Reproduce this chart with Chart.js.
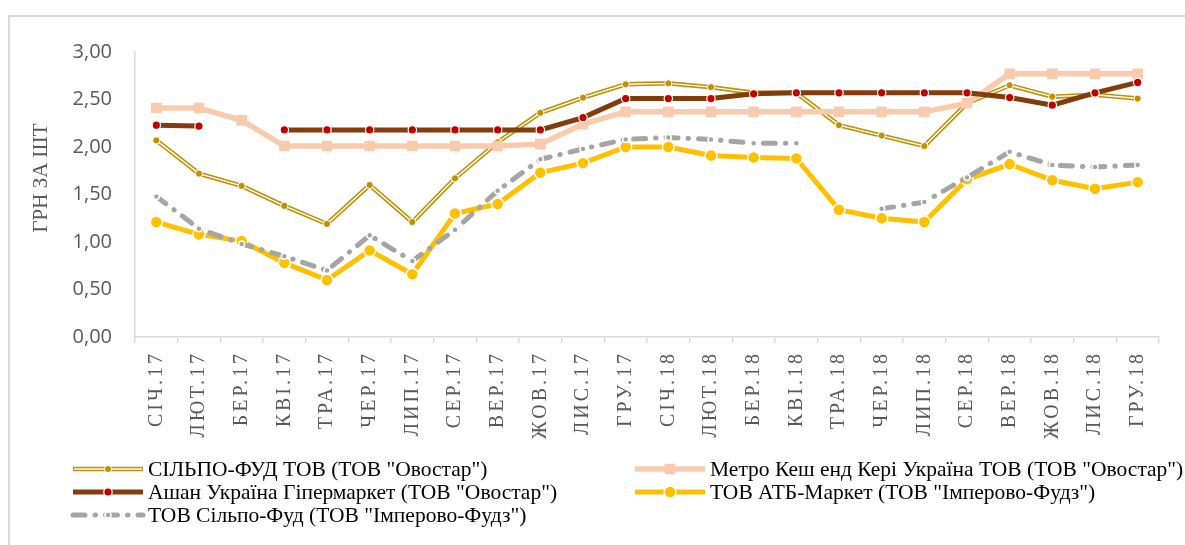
<!DOCTYPE html>
<html>
<head>
<meta charset="utf-8">
<script src="https://cdn.jsdelivr.net/npm/chart.js@4.4.1/dist/chart.umd.min.js"></script>
<style>
  html, body { margin: 0; padding: 0; background: #fff; }
  #frame { position: absolute; left: 8px; top: 15px; width: 1300px; height: 700px;
           border-top: 2px solid #D9D9D9; border-left: 2px solid #D9D9D9; }
  #chart { position: absolute; left: 0; top: 0; }
</style>
</head>
<body>
<div id="frame"></div>
<canvas id="chart" width="1185" height="545"></canvas>
<script>
/* --------------- Data --------------------- */
const months = ['СІЧ.17', 'ЛЮТ.17', 'БЕР.17', 'КВІ.17', 'ТРА.17', 'ЧЕР.17', 'ЛИП.17', 'СЕР.17',
  'ВЕР.17', 'ЖОВ.17', 'ЛИС.17', 'ГРУ.17', 'СІЧ.18', 'ЛЮТ.18', 'БЕР.18', 'КВІ.18', 'ТРА.18',
  'ЧЕР.18', 'ЛИП.18', 'СЕР.18', 'ВЕР.18', 'ЖОВ.18', 'ЛИС.18', 'ГРУ.18'];

const seriesNames = [
  'СІЛЬПО-ФУД ТОВ (ТОВ "Овостар")',
  'Метро Кеш енд Кері Україна ТОВ (ТОВ "Овостар")',
  'Ашан Україна Гіпермаркет (ТОВ "Овостар")',
  'ТОВ АТБ-Маркет (ТОВ "Імперово-Фудз")',
  'ТОВ Сільпо-Фуд (ТОВ "Імперово-Фудз")'
];

const silpoOvostar = [2.07, 1.72, 1.59, 1.38, 1.19, 1.60, 1.21, 1.67, 2.05, 2.36, 2.52, 2.66,
  2.67, 2.63, 2.57, 2.57, 2.23, 2.12, 2.01, 2.46, 2.65, 2.53, 2.55, 2.51];
const metroOvostar = [2.41, 2.41, 2.28, 2.01, 2.01, 2.01, 2.01, 2.01, 2.01, 2.03, 2.24, 2.37,
  2.37, 2.37, 2.37, 2.37, 2.37, 2.37, 2.37, 2.46, 2.77, 2.77, 2.77, 2.77];
const ashanOvostar = [2.23, 2.22, null, 2.18, 2.18, 2.18, 2.18, 2.18, 2.18, 2.18, 2.31, 2.51,
  2.51, 2.51, 2.56, 2.57, 2.57, 2.57, 2.57, 2.57, 2.52, 2.44, 2.57, 2.68];
const atbImperovo = [1.21, 1.08, 1.01, 0.78, 0.60, 0.91, 0.66, 1.30, 1.40, 1.73, 1.83, 2.00,
  2.00, 1.91, 1.89, 1.88, 1.34, 1.25, 1.21, 1.66, 1.82, 1.65, 1.56, 1.63];
const silpoImperovo = [1.48, 1.14, 0.98, 0.85, 0.70, 1.07, 0.80, 1.13, 1.54, 1.87, 1.98, 2.08,
  2.10, 2.08, 2.04, 2.04, null, 1.35, 1.42, 1.68, 1.95, 1.81, 1.79, 1.81];

const yTitle = 'ГРН ЗА ШТ';

/* --------------- Colors --------------------- */
const gold = '#BF9000';
const peach = '#F8CBAD';
const brown = '#843C0C';
const red = '#C00000';
const yellow = '#FFC000';
const grey = '#A5A5A5';
const axisGrey = '#D9D9D9';
const textGrey = '#595959';
const serif = '"Liberation Serif", "Times New Roman", serif';

/* --------------- Legend drawn in canvas (two columns like Excel) --------------------- */
const legendSlots = [
  { ds: 0, x: 73, y: 469 }, { ds: 2, x: 635, y: 469 },
  { ds: 3, x: 73, y: 492 }, { ds: 4, x: 635, y: 492 },
  { ds: 5, x: 73, y: 515 }
];
const legendNameIdx = [0, 1, 2, 3, 4];

const excelLook = {
  id: 'excelLook',
  afterDatasetsDraw(chart) {
    // x tick labels are drawn after datasets (ticks.z = 1), spaced out like the original
    chart.ctx.letterSpacing = '3px';
  },
  afterDraw(chart) {
    const ctx = chart.ctx;
    ctx.save();
    ctx.letterSpacing = '0px';

    // y axis title
    ctx.save();
    ctx.translate(41, 178);
    ctx.rotate(-Math.PI / 2);
    ctx.font = '21px ' + serif;
    ctx.fillStyle = textGrey;
    ctx.textAlign = 'center';
    ctx.textBaseline = 'middle';
    ctx.fillText(yTitle, 0, 0);
    ctx.restore();

    // legend
    legendSlots.forEach((slot, i) => {
      const ds = chart.data.datasets[slot.ds];
      const len = 70;
      ctx.save();
      ctx.lineCap = ds.borderCapStyle || 'butt';
      ctx.setLineDash(ds.borderDash || []);
      ctx.strokeStyle = ds.borderColor;
      ctx.lineWidth = ds.borderWidth;
      ctx.beginPath();
      ctx.moveTo(slot.x, slot.y);
      ctx.lineTo(slot.x + len, slot.y);
      ctx.stroke();
      if (slot.ds === 0) {
        const inner = chart.data.datasets[1];
        ctx.strokeStyle = inner.borderColor;
        ctx.lineWidth = inner.borderWidth;
        ctx.beginPath();
        ctx.moveTo(slot.x + 1, slot.y);
        ctx.lineTo(slot.x + len - 1, slot.y);
        ctx.stroke();
      }
      ctx.setLineDash([]);
      const pds = slot.ds === 0 ? chart.data.datasets[1] : ds;
      ctx.fillStyle = pds.pointBackgroundColor;
      ctx.strokeStyle = pds.pointBorderColor;
      ctx.lineWidth = pds.pointBorderWidth;
      Chart.helpers.drawPoint(ctx, { pointStyle: pds.pointStyle, radius: pds.pointRadius, borderWidth: pds.pointBorderWidth },
        slot.x + len / 2, slot.y);
      ctx.restore();

      ctx.font = '21.5px ' + serif;
      ctx.fillStyle = '#000';
      ctx.textBaseline = 'middle';
      ctx.textAlign = 'left';
      ctx.fillText(seriesNames[legendNameIdx[i]], slot.x + len + 5, slot.y + 1);
    });
    ctx.restore();
  }
};

/* --------------- Chart --------------------- */
new Chart(document.getElementById('chart'), {
  type: 'line',
  plugins: [excelLook],
  data: {
    labels: months,
    datasets: [
      { // gold double line: outer
        data: silpoOvostar, borderColor: gold, borderWidth: 4.5, pointRadius: 0, order: 5
      },
      { // gold double line: white core + markers
        data: silpoOvostar, borderColor: '#ffffff', borderWidth: 1.4,
        pointStyle: 'circle', pointRadius: 3.6, pointBackgroundColor: gold,
        pointBorderColor: '#ffffff', pointBorderWidth: 1, order: 4.9
      },
      {
        data: metroOvostar, borderColor: peach, borderWidth: 5.5,
        pointStyle: 'rect', pointRadius: 7.5, pointBackgroundColor: peach,
        pointBorderColor: peach, pointBorderWidth: 0, order: 4
      },
      {
        data: ashanOvostar, borderColor: brown, borderWidth: 5,
        pointStyle: 'circle', pointRadius: 4.2, pointBackgroundColor: red,
        pointBorderColor: '#ffffff', pointBorderWidth: 1.2, order: 3
      },
      {
        data: atbImperovo, borderColor: yellow, borderWidth: 5,
        pointStyle: 'circle', pointRadius: 6, pointBackgroundColor: yellow,
        pointBorderColor: '#ffffff', pointBorderWidth: 1.5, order: 2
      },
      {
        data: silpoImperovo, borderColor: grey, borderWidth: 5,
        borderDash: [12, 10, 0.5, 10], borderCapStyle: 'round',
        pointStyle: 'circle', pointRadius: 3, pointBackgroundColor: grey,
        pointBorderColor: '#ffffff', pointBorderWidth: 1.5, order: 1
      }
    ]
  },
  options: {
    responsive: false,
    animation: false,
    layout: { padding: { top: 52, left: 0, right: 26, bottom: 0 } },
    elements: { line: { tension: 0 } },
    plugins: { legend: { display: false }, tooltip: { enabled: false } },
    scales: {
      x: {
        offset: true,
        grid: { display: true, drawOnChartArea: false, drawTicks: true, tickLength: 6, color: axisGrey, offset: true, lineWidth: 1.5 },
        border: { display: true, color: axisGrey, width: 1.5 },
        ticks: {
          z: 1, autoSkip: false, minRotation: 90, maxRotation: 90, padding: 8,
          color: textGrey, font: { family: serif, size: 20 }
        },
        afterFit(scale) { scale.height = 208; }
      },
      y: {
        min: 0, max: 3,
        grid: { display: false, drawTicks: false },
        border: { display: true, color: axisGrey, width: 1.5 },
        ticks: {
          stepSize: 0.5, padding: 23, color: textGrey,
          font: { family: '"Open Sans", sans-serif', size: 20 },
          callback: (v) => v.toFixed(2).replace('.', ',')
        },
        afterFit(scale) { scale.width = 135; }
      }
    }
  }
});
</script>
</body>
</html>
